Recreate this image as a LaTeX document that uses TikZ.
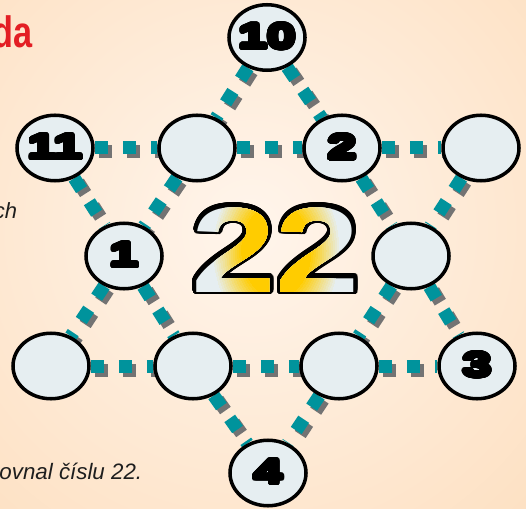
\documentclass[tikz,border=0pt]{standalone}
\usepackage{fontspec}
\setmainfont{Liberation Sans}
\setsansfont{Liberation Sans}
\newfontfamily\numfont{Liberation Sans}[FakeStretch=1.5]
\newfontfamily\bignumfont{Liberation Sans}[FakeStretch=1.25]
\newfontfamily\headfont{Liberation Sans}[FakeStretch=0.78]
\usepackage{contour}
\contournumber{32}
\usetikzlibrary{shapes.geometric}
\definecolor{peachlight}{RGB}{255, 245, 236}
\definecolor{peachdeep}{RGB}{252, 210, 165}
\definecolor{spotfill}{RGB}{230, 238, 241}
\definecolor{linkteal}{RGB}{0, 147, 156}
\definecolor{linkshade}{RGB}{115, 115, 115}
\definecolor{glowgold}{RGB}{255, 204, 0}
\definecolor{titlered}{RGB}{227, 30, 36}
\definecolor{inkgray}{RGB}{30, 30, 30}
\pgfdeclareradialshading{peachglow}{\pgfpointorigin}{color(0bp)=(peachlight); color(40bp)=(peachdeep); color(50bp)=(peachdeep)}
\pgfdeclarelayer{backdrop}
\pgfdeclarelayer{links}
\pgfsetlayers{backdrop,links,main}
\newcommand{\spotnum}[1]{\makebox[0pt]{\contourlength{1.3pt}\contour{black}{#1}}}
\tikzset{
  spot/.style={ellipse, draw=black, line width=2pt, fill=spotfill, minimum width=1.52cm, minimum height=1.31cm, inner sep=0pt, font=\numfont\bfseries\fontsize{19.5}{19.5}\selectfont},
  link/.style={draw=linkteal, line width=0.26cm, dash pattern=on 0.27cm off 0.29cm},
  linkshadow/.style={link, draw=linkshade, transform canvas={xshift=0.08cm, yshift=-0.08cm}},
  bigsum/.style={inner sep=0pt, font=\bignumfont\bfseries\fontsize{69}{69}\selectfont}
}
\begin{document}
\begin{tikzpicture}[font=\sffamily]
  \useasboundingbox (0,0) rectangle (10.52,10.16);

  % Backdrop: peach glow, lighter near the middle
  \begin{pgfonlayer}{backdrop}
    \fill[peachdeep] (0,0) rectangle (10.52,10.16);
    \shade[shading=peachglow] (5.0,5.6) circle (8.6);
  \end{pgfonlayer}

  % Cut-off text at the page edges
  \node[anchor=base east, inner sep=0pt, text=titlered, font=\headfont\bfseries\fontsize{25}{25}\selectfont] (headtail) at (0.66, 9.2) {da};
  \node[anchor=base east, inner sep=0pt, text=inkgray, font=\itshape\fontsize{12.5}{12.5}\selectfont] (introtail) at (0.35, 5.78) {ch};
  \node[anchor=base east, inner sep=0pt, text=inkgray, font=\itshape\fontsize{12.7}{12.7}\selectfont] (tasktail) at (2.85, 0.58) {ovnal číslu 22.};

  % Star tips
  \node[spot] (p10) at (5.34, 9.41) {\spotnum{10}};
  \node[spot] (p11) at (1.10, 7.20) {\spotnum{11}};
  \node[spot] (tipNE) at (9.62, 7.20) {};
  \node[spot] (tipSW) at (1.02, 2.84) {};
  \node[spot] (p3) at (9.54, 2.84) {\spotnum{3}};
  \node[spot] (p4) at (5.36, 0.70) {\spotnum{4}};

  % Inner hexagon
  \node[spot] (hexNW) at (3.94, 7.20) {};
  \node[spot] (p2) at (6.84, 7.20) {\spotnum{2}};
  \node[spot] (p1) at (2.48, 5.04) {\spotnum{1}};
  \node[spot] (hexE) at (8.22, 5.04) {};
  \node[spot] (hexSW) at (3.86, 2.84) {};
  \node[spot] (hexSE) at (6.78, 2.84) {};

  % Dotted sides of both triangles
  \begin{pgfonlayer}{links}
    \foreach \a/\b in {p11/hexNW, hexNW/p2, p2/tipNE, tipSW/hexSW, hexSW/hexSE, hexSE/p3,
                       p10/hexNW, hexNW/p1, p1/tipSW, p10/p2, p2/hexE, hexE/p3,
                       p11/p1, p1/hexSW, hexSW/p4, tipNE/hexE, hexE/hexSE, hexSE/p4} {
      \draw[linkshadow] (\a) -- (\b);
      \draw[link] (\a) -- (\b);
    }
  \end{pgfonlayer}

  % The magic sum in the middle, outlined, gold glowing towards its centre
  \node[bigsum, text=black] (sumline) at (5.52, 5.15) {\contourlength{2.2pt}\contour{black}{22}};
  \node[bigsum, text=spotfill] (sumfill) at (sumline.center) {22};
  \foreach \i in {1,...,14} {
    \pgfmathsetmacro\r{1.3-0.6*\i/14}
    \pgfmathtruncatemacro\g{100*\i/14}
    \begin{scope}
      \clip (sumline.center) ellipse [x radius=\r cm, y radius=1.35*\r cm];
      \node[bigsum, text=glowgold!\g!spotfill] (sumglow\i) at (sumline.center) {22};
    \end{scope}
  }
\end{tikzpicture}
\end{document}
